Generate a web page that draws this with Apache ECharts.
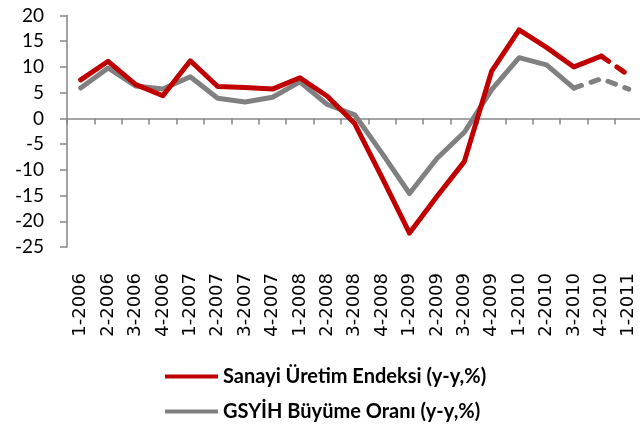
<!DOCTYPE html>
<html>
<head>
<meta charset="utf-8">
<script src="https://cdn.jsdelivr.net/npm/echarts@6/dist/echarts.min.js"></script>
<style>
  html, body { margin: 0; padding: 0; background: #fff; }
  #chart { width: 640px; height: 425px; }
</style>
</head>
<body>
<div id="chart"></div>
<script>
const categories = ['1-2006', '2-2006', '3-2006', '4-2006', '1-2007', '2-2007', '3-2007', '4-2007',
  '1-2008', '2-2008', '3-2008', '4-2008', '1-2009', '2-2009', '3-2009', '4-2009',
  '1-2010', '2-2010', '3-2010', '4-2010', '1-2011']
const sanayi = [7.5, 11.1, 6.6, 4.4, 11.2, 6.2, 6.0, 5.7, 7.9, 4.3, -1.0, -11.5, -22.3, -15.2, -8.4, 9.2, 17.2, 13.8, 10.0, 12.1, 8.4]
const gsyih = [5.9, 9.8, 6.3, 5.7, 8.1, 3.9, 3.2, 4.1, 7.1, 2.7, 0.7, -6.8, -14.6, -7.8, -2.7, 5.6, 11.8, 10.4, 5.9, 7.7, 5.7]
// index where the dashed (estimate) part starts
const sanayiDashFrom = 19
const gsyihDashFrom = 18

const solidPart = (arr, from) => arr.map((v, i) => (i <= from ? v : null))
const dashPart = (arr, from) => arr.map((v, i) => (i >= from ? v : null))

const red = '#c00000'
const gray = '#808080'
const axisGray = '#868686'

const myChart = echarts.init(document.getElementById('chart'))
const lineBase = {
  type: 'line',
  showSymbol: false,
  symbol: 'none',
  silent: true
}
const option = {
  animation: false,
  grid: { left: 67, right: -2.4, top: 15.5, bottom: 178, outerBoundsMode: 'none', containLabel: false },
  xAxis: {
    type: 'category',
    data: categories,
    boundaryGap: true,
    axisLine: { onZero: true, lineStyle: { color: axisGray, width: 1.5 } },
    axisTick: { show: true, length: 6, alignWithLabel: false, interval: 0, lineStyle: { color: axisGray, width: 1.5 } },
    // labels stay at the bottom of the plot (Excel "low" position)
    axisLabel: {
      interval: 0,
      rotate: 90,
      margin: 26,
      color: '#000',
      fontFamily: 'DejaVu Sans',
      fontSize: 18
    },
    splitLine: { show: false }
  },
  yAxis: {
    type: 'value',
    min: -25,
    max: 20,
    interval: 5,
    axisLine: { show: true, lineStyle: { color: axisGray, width: 1.5 } },
    axisTick: { show: true, length: 7, lineStyle: { color: axisGray, width: 1.5 } },
    axisLabel: { margin: 23, color: '#000', fontFamily: 'Lato', fontSize: 19 },
    splitLine: { show: false }
  },
  legend: {
    orient: 'vertical',
    left: 165,
    top: 366,
    padding: 0,
    itemWidth: 53,
    itemHeight: 4,
    itemGap: 14,
    icon: 'rect',
    data: ['Sanayi Üretim Endeksi (y-y,%)', 'GSYİH Büyüme Oranı (y-y,%)'],
    textStyle: { fontFamily: 'Lato', fontWeight: 'bold', fontSize: 20, color: '#000', lineHeight: 21 }
  },
  series: [
    {
      ...lineBase,
      name: 'GSYİH Büyüme Oranı (y-y,%)',
      data: solidPart(gsyih, gsyihDashFrom),
      itemStyle: { color: gray },
      lineStyle: { color: gray, width: 5, cap: 'round', join: 'round' }
    },
    {
      ...lineBase,
      name: 'gsyih-dash',
      data: dashPart(gsyih, gsyihDashFrom),
      itemStyle: { color: gray },
      lineStyle: { color: gray, width: 5, type: [8, 10], cap: 'round', join: 'round' }
    },
    {
      ...lineBase,
      name: 'Sanayi Üretim Endeksi (y-y,%)',
      data: solidPart(sanayi, sanayiDashFrom),
      itemStyle: { color: red },
      lineStyle: { color: red, width: 5, cap: 'round', join: 'round' }
    },
    {
      ...lineBase,
      name: 'sanayi-dash',
      data: dashPart(sanayi, sanayiDashFrom),
      itemStyle: { color: red },
      lineStyle: { color: red, width: 5, type: [9, 10], cap: 'round', join: 'round' }
    }
  ]
}
myChart.setOption(option)
</script>
</body>
</html>
